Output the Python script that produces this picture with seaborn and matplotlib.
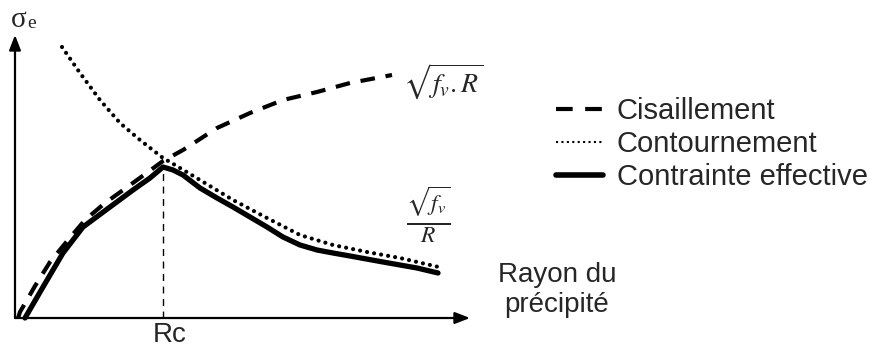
import seaborn as sns
import matplotlib.pyplot as plt
from matplotlib.lines import Line2D

# values (x = rayon, y = contrainte, arbitrary units)
cis_x = [0.3, 0.5, 2.0, 3.5, 5.3, 7.0, 9.0, 11.1, 13.3, 14.8, 16.8, 20.2, 23.5, 26.8, 30.2, 33.5, 37.7]
cis_y = [0.0, 0.6, 3.2, 5.6, 7.8, 9.8, 11.5, 13.0, 14.6, 15.7, 16.8, 19.0, 20.5, 21.8, 22.6, 23.5, 24.3]

con_x = [4.7, 6.5, 8.5, 10.5, 12.5, 14.8, 15.5, 18.5, 21.8, 25.2, 28.5, 31.8, 35.2, 38.5, 42.8]
con_y = [27.1, 24.5, 21.8, 19.5, 17.8, 16.0, 15.6, 13.8, 11.8, 10.0, 8.3, 7.3, 6.6, 6.0, 5.0]

eff_x = [1.0, 2.8, 4.8, 6.8, 9.5, 11.8, 13.5, 14.8, 15.8, 16.8, 18.5, 20.2, 21.8, 23.5, 25.2,
         26.8, 28.5, 30.2, 31.8, 33.5, 36.8, 40.2, 42.3]
eff_y = [0.0, 3.1, 6.5, 9.1, 11.1, 12.8, 14.0, 15.1, 14.8, 14.3, 13.0, 12.0, 11.1, 10.1, 9.1,
         8.1, 7.3, 6.8, 6.5, 6.2, 5.6, 5.0, 4.5]

rc = 14.8
rc_peak = 15.1
labels = ['Cisaillement', 'Contournement', 'Contrainte effective']

sns.set_style('white')
plt.rcParams['font.family'] = ['Liberation Sans', 'DejaVu Sans']
plt.rcParams['mathtext.fontset'] = 'stix'

W, H = 870, 349
fig = plt.figure(figsize=(8.7, 3.49), dpi=100)
ax = fig.add_axes([15 / W, 31 / H, 455 / W, 283 / H])
ax.set_xlim(0, 45.5)
ax.set_ylim(0, 28.3)
ax.axis('off')

sns.lineplot(x=cis_x, y=cis_y, ax=ax, color='black', lw=3.0,
             linestyle=(0, (3.5, 2.6)), sort=False, clip_on=False)
sns.lineplot(x=con_x, y=con_y, ax=ax, color='black', lw=3.0,
             linestyle=(0, (0.01, 1.7)), dash_capstyle='round', sort=False, clip_on=False)
sns.lineplot(x=eff_x, y=eff_y, ax=ax, color='black', lw=3.8, solid_joinstyle='round',
             sort=False, clip_on=False)
ax.plot([rc, rc], [0, rc_peak], color='black', lw=1.0, linestyle=(0, (5, 4)))

# axes arrows
arrow = dict(arrowstyle='-|>,head_length=0.9,head_width=0.35', color='black', lw=1.6,
             shrinkA=0, shrinkB=0)
ax.annotate('', xy=(45.5, 0), xytext=(0, 0), arrowprops=arrow, annotation_clip=False)
ax.annotate('', xy=(0, 28.3), xytext=(0, 0), arrowprops=arrow, annotation_clip=False)


def px(x, y):
    return x / W, 1 - y / H


serif = ['Liberation Serif', 'DejaVu Serif']
fig.text(*px(11, 20), 'σ', fontsize=21, va='center', ha='left', family=serif)
fig.text(*px(27, 24), 'e', fontsize=14, va='center', ha='left', family=serif)
fig.text(*px(443, 82), r'$\sqrt{f_v.R}$', fontsize=20, va='center', ha='center')
fig.text(*px(428, 215), r'$\frac{\sqrt{f_v}}{R}$', fontsize=24, va='center', ha='center')
fig.text(*px(170, 335), 'Rc', fontsize=20, va='center', ha='center')
fig.text(*px(557, 290), 'Rayon du\nprécipité', fontsize=20, va='center', ha='center',
         linespacing=1.2)

handles = [
    Line2D([], [], color='black', lw=3.0, linestyle=(0, (4, 3))),
    Line2D([], [], color='black', lw=1.5, linestyle=(0, (1, 1.6))),
    Line2D([], [], color='black', lw=4.0),
]
fig.legend(handles, labels, loc='upper left', bbox_to_anchor=px(556, 97), frameon=False,
           fontsize=21, handlelength=1.6, handletextpad=0.48, labelspacing=0.17,
           borderpad=0, borderaxespad=0)

fig.savefig('out.png', dpi=100)
